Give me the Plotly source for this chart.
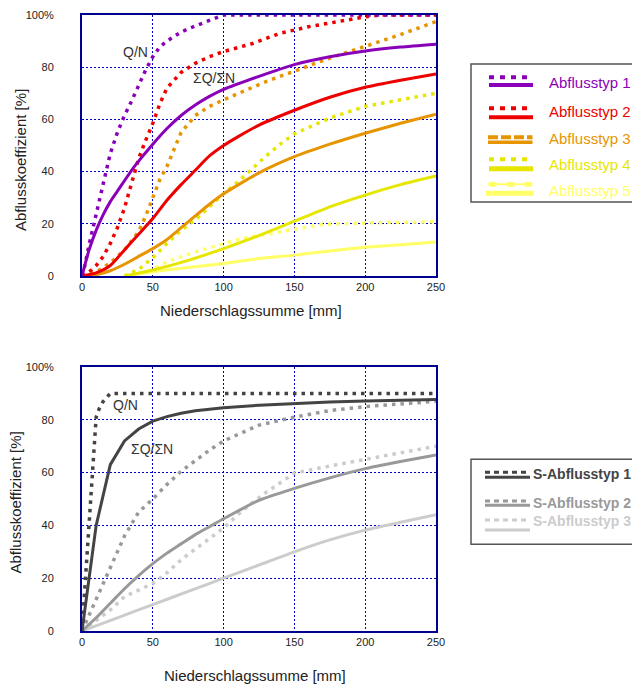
import plotly.graph_objects as go

# ---------------- data: top panel (Abflusstyp 1-5) ----------------
# Q/N (dotted) and sum(Q)/sum(N) (solid), runoff coefficient [%] vs precipitation [mm]
t1_qn_x = [0, 2, 5, 10, 15, 20, 25, 30, 35, 40, 45, 50, 55, 60, 70, 80, 90, 100, 250]
t1_qn_y = [0, 4, 12, 24, 36, 47, 55, 61.5, 67, 73, 79, 84, 87.8, 90, 93.5, 95.8, 97.8, 100, 100]
t1_sum_x = [0, 5, 10, 15, 20, 25, 30, 35, 40, 50, 60, 70, 80, 90, 100, 125, 150, 175, 200, 225, 250]
t1_sum_y = [0, 10, 17.5, 23.5, 28.5, 32.5, 36.5, 40.5, 44, 50.5, 56.5, 61.5, 65.5, 68.8, 71.5, 76.5, 81, 84, 86.2, 87.7, 88.8]

t2_qn_x = [0, 5, 10, 15, 20, 25, 30, 35, 40, 45, 50, 55, 60, 70, 80, 90, 100, 120, 140, 160, 180, 200, 210, 250]
t2_qn_y = [0, 1.5, 4, 7.5, 12.5, 18.5, 26, 36, 45, 52, 58.5, 66, 72, 78, 81.5, 84, 86, 89, 93, 95.5, 97.5, 99.3, 100, 100]
t2_sum_x = [0, 10, 20, 30, 40, 50, 60, 70, 80, 90, 100, 110, 125, 150, 175, 200, 225, 250]
t2_sum_y = [0, 1.2, 4, 10, 16, 22, 29, 35, 40.5, 46, 50, 53.3, 57.8, 63.5, 68.5, 72.3, 75, 77.4]

t3_qn_x = [0, 10, 20, 30, 40, 45, 50, 55, 60, 65, 70, 80, 90, 100, 115, 130, 150, 175, 200, 225, 250]
t3_qn_y = [0, 1.5, 5, 10, 17, 23, 30, 37, 42, 48.5, 55, 61.5, 65, 67.5, 71, 74.5, 78.5, 83.5, 88, 92.5, 97.5]
t3_sum_x = [0, 10, 20, 30, 40, 50, 60, 70, 80, 90, 100, 125, 150, 175, 200, 225, 250]
t3_sum_y = [0, 0.5, 2, 4.5, 7.5, 10.5, 14, 18.5, 23, 27.5, 31.5, 39.5, 45.7, 50.5, 54.7, 58.5, 62]

t4_qn_x = [30, 40, 50, 60, 70, 80, 90, 100, 110, 120, 130, 140, 150, 175, 200, 225, 250]
t4_qn_y = [0, 2.5, 7, 12.5, 17.5, 21.5, 26.5, 31.5, 36, 41, 46, 50.5, 54.5, 60.5, 65, 67.5, 70]
t4_sum_x = [30, 50, 75, 100, 125, 150, 175, 200, 225, 250]
t4_sum_y = [0, 2.3, 6, 10.5, 15.5, 21, 26.5, 31, 35, 38.3]

t5_qn_x = [35, 50, 60, 70, 80, 90, 100, 110, 120, 130, 140, 150, 160, 170, 200, 250]
t5_qn_y = [0, 2.5, 5.5, 7.4, 9.2, 10.8, 12.5, 14, 15, 16, 17, 18, 19, 19.8, 20.3, 20.8]
t5_sum_x = [30, 50, 75, 100, 125, 150, 175, 200, 225, 250]
t5_sum_y = [0, 1.6, 3.3, 4.8, 6.7, 8, 9.6, 11, 12, 13]

# ---------------- data: bottom panel (S-Abflusstyp 1-3) ----------------
s1_qn_x = [0, 2, 4, 6, 8, 10, 12, 15, 20, 250]
s1_qn_y = [0, 17, 32, 50, 66, 81, 84, 87, 90, 90]
s1_sum_x = [0, 10, 20, 30, 40, 50, 60, 70, 80, 90, 100, 125, 150, 175, 200, 225, 250]
s1_sum_y = [0, 40, 63, 72, 76.5, 79.5, 81.2, 82.5, 83.4, 84, 84.6, 85.5, 86.2, 86.7, 87.1, 87.4, 87.7]

s2_qn_x = [0, 5, 10, 20, 30, 40, 50, 60, 70, 80, 90, 100, 125, 150, 175, 200, 225, 250]
s2_qn_y = [0, 6, 12, 24, 36, 45, 50, 55.5, 60.5, 64.5, 68.5, 72, 78, 81, 83.5, 85, 86, 87]
s2_sum_x = [0, 10, 20, 30, 40, 50, 60, 70, 80, 90, 100, 125, 150, 175, 200, 225, 250]
s2_sum_y = [0, 5, 10.5, 16, 21, 25.5, 29.5, 33, 36.5, 39.5, 42.5, 49.5, 54, 58, 61.5, 64.2, 66.7]

s3_qn_x = [0, 10, 20, 30, 40, 50, 60, 70, 80, 90, 100, 110, 120, 130, 140, 150, 175, 200, 225, 250]
s3_qn_y = [0, 4, 8, 13, 15.5, 18, 22, 27, 31, 35, 39, 44, 48.5, 52.5, 56.3, 59.8, 62.5, 65, 67.5, 70]
s3_sum_x = [0, 25, 50, 75, 100, 125, 150, 175, 200, 225, 250]
s3_sum_y = [0, 5, 10, 15, 20, 25, 30, 34.5, 38.2, 41.2, 44]

# ---------------- labels ----------------
top_names = ["Abflusstyp 1", "Abflusstyp 2", "Abflusstyp 3", "Abflusstyp 4", "Abflusstyp 5"]
top_colors = ["#8a00b8", "#ee0000", "#e69500", "#e6e600", "#ffff66"]
bot_names = ["S-Abflusstyp 1", "S-Abflusstyp 2", "S-Abflusstyp 3"]
bot_colors = ["#444444", "#999999", "#cccccc"]
x_ticks = [0, 50, 100, 150, 200, 250]
y_ticks = [0, 20, 40, 60, 80, 100]
y_ticktext = ["0", "20", "40", "60", "80", "100%"]
x_title = "Niederschlagssumme [mm]"
y_title = "Abflusskoeffizient [%]"

FONT = "Liberation Sans, Arial, sans-serif"
W, H = 632, 684


def fx(p):
    return p / W


def fy(p):
    return 1 - p / H


DOT = "3.5px,5px"

fig = go.Figure()

top_series = [
    (t1_qn_x, t1_qn_y, t1_sum_x, t1_sum_y),
    (t2_qn_x, t2_qn_y, t2_sum_x, t2_sum_y),
    (t3_qn_x, t3_qn_y, t3_sum_x, t3_sum_y),
    (t4_qn_x, t4_qn_y, t4_sum_x, t4_sum_y),
    (t5_qn_x, t5_qn_y, t5_sum_x, t5_sum_y),
]
for name, col, (qx, qy, sx, sy) in reversed(list(zip(top_names, top_colors, top_series))):
    fig.add_trace(go.Scatter(x=sx, y=sy, mode="lines", name=name + " ΣQ/ΣN",
                             line=dict(color=col, width=3, shape="spline", smoothing=0.6),
                             xaxis="x", yaxis="y", showlegend=False, cliponaxis=False))
    fig.add_trace(go.Scatter(x=qx, y=qy, mode="lines", name=name + " Q/N",
                             line=dict(color=col, width=3.5, dash=DOT), xaxis="x", yaxis="y",
                             showlegend=False, cliponaxis=False))

bot_series = [
    (s1_qn_x, s1_qn_y, s1_sum_x, s1_sum_y),
    (s2_qn_x, s2_qn_y, s2_sum_x, s2_sum_y),
    (s3_qn_x, s3_qn_y, s3_sum_x, s3_sum_y),
]
for i, (name, col, (qx, qy, sx, sy)) in reversed(list(enumerate(zip(bot_names, bot_colors, bot_series)))):
    shp = dict(shape="linear") if i == 0 else dict(shape="spline", smoothing=0.6)
    fig.add_trace(go.Scatter(x=sx, y=sy, mode="lines", name=name + " ΣQ/ΣN",
                             line=dict(color=col, width=3, **shp), xaxis="x2", yaxis="y2",
                             showlegend=False, cliponaxis=False))
    fig.add_trace(go.Scatter(x=qx, y=qy, mode="lines", name=name + " Q/N",
                             line=dict(color=col, width=3.5, dash=DOT), xaxis="x2", yaxis="y2",
                             showlegend=False, cliponaxis=False))

axis_common = dict(
    showline=True, mirror=True, linecolor="#000090", linewidth=2,
    showgrid=True, gridcolor="#0000cc", gridwidth=1, griddash="2px,2px",
    zeroline=False, ticks="", tickfont=dict(family=FONT, size=11, color="#222222"),
)
fig.update_layout(
    width=W, height=H, margin=dict(l=0, r=0, t=0, b=0, autoexpand=False),
    paper_bgcolor="white", plot_bgcolor="white", showlegend=False,
    font=dict(family=FONT),
    xaxis=dict(domain=[fx(82), fx(436)], range=[0, 250], tickvals=x_ticks, anchor="y", **axis_common),
    yaxis=dict(domain=[fy(276), fy(15)], range=[0, 100], tickvals=y_ticks, ticktext=y_ticktext,
               anchor="x", ticklabelstandoff=24, **axis_common),
    xaxis2=dict(domain=[fx(82), fx(436)], range=[0, 250], tickvals=x_ticks, anchor="y2", **axis_common),
    yaxis2=dict(domain=[fy(631), fy(367)], range=[0, 100], tickvals=y_ticks, ticktext=y_ticktext,
                anchor="x2", ticklabelstandoff=24, **axis_common),
)

ann = []


def pann(text, x, y, size, color, angle=0, xanchor="center"):
    ann.append(dict(text=text, x=fx(x), y=fy(y), xref="paper", yref="paper", showarrow=False,
                    xanchor=xanchor, yanchor="middle", textangle=angle,
                    font=dict(size=size, color=color)))


# axis titles
pann(x_title, 250.5, 310, 15, "#222222")
pann(x_title, 255, 675.7, 15, "#222222")
pann(y_title, 20, 160, 15, "#222222", angle=-90)
pann(y_title, 15, 502.5, 15, "#222222", angle=-90)

# curve labels
for txt, xx, yy, xr, yr in [("Q/N", 37.6, 85.7, "x", "y"), ("ΣQ/ΣN", 92.9, 75.7, "x", "y"),
                            ("Q/N", 30.6, 85.5, "x2", "y2"), ("ΣQ/ΣN", 49.4, 69.1, "x2", "y2")]:
    ann.append(dict(text=txt, x=xx, y=yy, xref=xr, yref=yr, showarrow=False,
                    xanchor="center", yanchor="middle", font=dict(size=14, color="#333333")))

shapes = []


def hline(x0, x1, y, color, width, dash="solid"):
    shapes.append(dict(type="line", xref="paper", yref="paper", x0=fx(x0), x1=fx(x1),
                       y0=fy(y), y1=fy(y), line=dict(color=color, width=width, dash=dash)))


# top legend box
shapes.append(dict(type="rect", xref="paper", yref="paper", x0=fx(471), x1=fx(680), y0=fy(202), y1=fy(64),
                   line=dict(color="#555555", width=1.5), fillcolor="white", layer="below"))
top_dot_y = [77.3, 108.3, 137.3, 159.3, 184.3]
top_sol_y = [85, 117.3, 142.3, 168.7, 193.3]
top_txt_y = [82.3, 111.7, 138.3, 164.3, 190]
for i, (name, col) in enumerate(zip(top_names, top_colors)):
    if i == 2:
        hline(488, 532.5, top_dot_y[i], col, 4, "10px,3px")
        hline(488, 532.5, top_sol_y[i], col, 3.5)
    elif i == 4:
        hline(488, 532.5, top_dot_y[i], col, 2)
        for cx in (492.7, 510.7, 528.3):
            shapes.append(dict(type="rect", xref="paper", yref="paper", x0=fx(cx - 3.5), x1=fx(cx + 3.5),
                               y0=fy(top_dot_y[i] + 2.5), y1=fy(top_dot_y[i] - 2.5),
                               line=dict(width=0), fillcolor=col))
        hline(486, 533.5, top_sol_y[i], col, 5)
    else:
        hline(489, 533, top_dot_y[i], col, 4, "5px,6px")
        hline(489, 533, top_sol_y[i], col, 4 if i < 3 else 5)
    pann(name, 547.3, top_txt_y[i], 15, col, xanchor="left")

# bottom legend box
shapes.append(dict(type="rect", xref="paper", yref="paper", x0=fx(471), x1=fx(680), y0=fy(544.3), y1=fy(459.3),
                   line=dict(color="#555555", width=1.5), fillcolor="white", layer="below"))
bot_dot_y = [472.3, 501, 520]
bot_sol_y = [477.3, 505.3, 530]
bot_txt_y = [474, 502.7, 520.7]
for i, (name, col) in enumerate(zip(bot_names, bot_colors)):
    hline(485, 530, bot_dot_y[i], col, 3, "5px,4px")
    hline(485, 530, bot_sol_y[i], col, 3)
    pann("<b>" + name + "</b>", 530.5, bot_txt_y[i], 14, col, xanchor="left")

fig.update_layout(annotations=ann, shapes=shapes)
fig.write_html("out.html", config={"displayModeBar": False},
               post_script="document.body.style.margin='0px';document.body.style.overflow='hidden';")
